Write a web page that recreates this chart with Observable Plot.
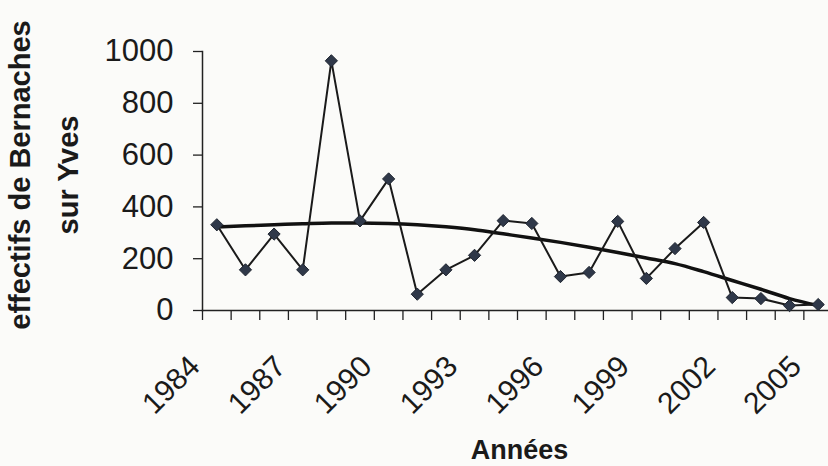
<!DOCTYPE html>
<html>
<head>
<meta charset="utf-8">
<script src="https://cdn.jsdelivr.net/npm/d3@7"></script>
<script src="https://cdn.jsdelivr.net/npm/@observablehq/plot@0.6"></script>
<style>
  html, body { margin: 0; padding: 0; background: #fbfbf9; }
</style>
</head>
<body>
<div id="chart"></div>
<script>
const years = [1984,1985,1986,1987,1988,1989,1990,1991,1992,1993,1994,1995,1996,1997,1998,1999,2000,2001,2002,2003,2004,2005];
const counts = [331,157,295,157,964,346,508,63,157,213,347,336,131,147,344,124,239,340,50,46,19,23];
const trend = [322,327,331,335,338,338,336,331,323,312,296,280,263,244,224,203,181,150,116,82,46,19];
const yTicks = [0,200,400,600,800,1000];
const xLabels = [1984,1987,1990,1993,1996,1999,2002,2005];
const yTitle = "effectifs de Bernaches\nsur Yves";
const xTitle = "Années";

const rows = years.map((year, i) => ({year, count: counts[i], trend: trend[i]}));
const boundaries = years.map(y => y - 0.5).concat([years[years.length - 1] + 0.5]);

const font = "'Liberation Sans', Arial, Helvetica, sans-serif";

const chart = Plot.plot({
  width: 828,
  height: 466,
  marginLeft: 202,
  marginRight: 0,
  marginTop: 51,
  marginBottom: 156,
  style: {background: "#fbfbf9", fontFamily: font, color: "#1a1a1a", overflow: "visible"},
  x: {domain: [boundaries[0], boundaries[boundaries.length - 1]], range: [202, 832], axis: null},
  y: {domain: [0, 1000], axis: null},
  marks: [
    Plot.axisY({ticks: yTicks, tickFormat: d => String(d), tickSize: 9, tickPadding: 20, fontSize: 31, label: null, stroke: "#222", strokeWidth: 1.3}),
    Plot.axisX({ticks: boundaries, tickSize: 10, tickFormat: () => "", label: null, stroke: "#222", strokeWidth: 1.3}),
    Plot.frame({anchor: "left", stroke: "#222", strokeWidth: 1.5}),
    Plot.frame({anchor: "bottom", stroke: "#222", strokeWidth: 1.5}),
    Plot.text(xLabels, {x: d => d, text: d => String(d), frameAnchor: "bottom", rotate: -45, textAnchor: "end", lineAnchor: "middle", dx: -22, dy: 51, fontSize: 30, fill: "#1a1a1a"}),
    Plot.line(rows, {x: "year", y: "trend", stroke: "#111", strokeWidth: 3.5, curve: "monotone-x"}),
    Plot.line(rows, {x: "year", y: "count", stroke: "#1a1a1a", strokeWidth: 2}),
    Plot.dot(rows, {x: "year", y: "count", symbol: "diamond2", r: 5.5, fill: "#2f3849", stroke: "#1f2530", strokeWidth: 1}),
    Plot.text([yTitle], {frameAnchor: "left", rotate: -90, textAnchor: "middle", dx: -164, dy: -6, fontSize: 29, fontWeight: "bold", lineHeight: 1.65, fill: "#1a1a1a"}),
    Plot.text([xTitle], {frameAnchor: "bottom", dx: 4, dy: 148, fontSize: 27, fontWeight: "bold", letterSpacing: "1px", fill: "#1a1a1a"})
  ]
});
document.getElementById("chart").appendChild(chart);
</script>
</body>
</html>
